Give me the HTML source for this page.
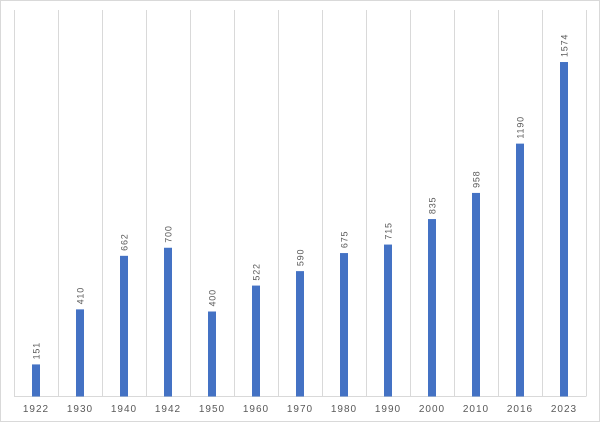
<!DOCTYPE html><html><head><style>body{margin:0;background:#fff}</style></head><body>
<svg width="600" height="422" xmlns="http://www.w3.org/2000/svg" font-family="Liberation Sans, sans-serif">
<rect x="0.5" y="0.5" width="599" height="421" fill="#fff" stroke="#d9d9d9"/>
<g id="g"></g>
</svg>
<script>
const d=[["1922",151],["1930",410],["1940",662],["1942",700],["1950",400],["1960",522],["1970",590],["1980",675],["1990",715],["2000",835],["2010",958],["2016",1190],["2023",1574]];
let s='';const L=14,W=44,B=396.5,k=0.2125;
for(let i=0;i<=13;i++){const x=L+i*W+0.5;if(i>0&&i<13)s+=`<line x1="${x}" y1="10" x2="${x}" y2="${B}" stroke="#d9d9d9"/>`;if(i==0||i==13)s+=`<line x1="${x}" y1="10" x2="${x}" y2="${B}" stroke="#d9d9d9"/>`;}
s+=`<line x1="${L}" y1="${B}" x2="${L+13*W}" y2="${B}" stroke="#d9d9d9"/>`;
d.forEach(([l,v],i)=>{const c=L+i*W+W/2,h=v*k;s+=`<rect x="${c-4}" y="${B-h}" width="8" height="${h}" fill="#4472C4"/>`;
s+=`<text x="${c}" y="412" font-size="10" fill="#595959" text-anchor="middle" letter-spacing="1">${l}</text>`;
s+=`<text transform="translate(${c+3.5},${B-h-5}) rotate(-90)" font-size="9" fill="#595959" letter-spacing="0.8">${v}</text>`;});
document.getElementById('g').innerHTML=s;
</script>
</body></html>
